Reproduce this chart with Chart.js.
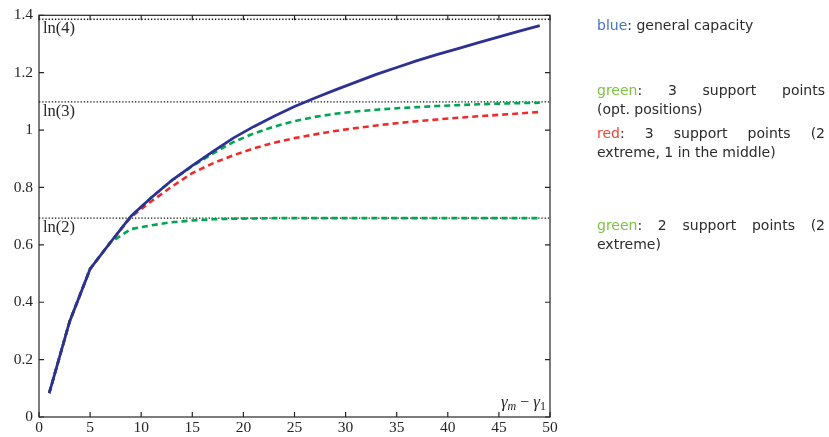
<!DOCTYPE html>
<html>
<head>
<meta charset="utf-8">
<script src="https://cdn.jsdelivr.net/npm/chart.js@4.4.0/dist/chart.umd.min.js"></script>
<style>
  html, body { margin: 0; padding: 0; background: #fff; }
  #wrap { position: relative; width: 829px; height: 437px; overflow: hidden; }
  #chart { position: absolute; left: 0; top: 0; }
  .note {
    position: absolute; left: 597px; width: 228px;
    font-family: "DejaVu Sans", sans-serif; font-size: 14px; line-height: 19px;
    color: #2b2b2b; margin: 0;
  }
  .note div { white-space: nowrap; }
  .note .j { text-align: justify; text-align-last: justify; white-space: normal; }
  .c-blue { color: #4472c4; }
  .c-green { color: #7dc242; }
  .c-red { color: #f0453a; }
</style>
</head>
<body>
<div id="wrap">
  <canvas id="chart" width="829" height="437"></canvas>
  <div class="note" style="top:16px"><div><span class="c-blue">blue</span>: general capacity</div></div>
  <div class="note" style="top:81px">
    <div class="j"><span class="c-green">green</span>: 3 support points</div>
    <div>(opt. positions)</div>
  </div>
  <div class="note" style="top:124px">
    <div class="j"><span class="c-red">red</span>: 3 support points (2</div>
    <div>extreme, 1 in the middle)</div>
  </div>
  <div class="note" style="top:216px">
    <div class="j"><span class="c-green">green</span>: 2 support points (2</div>
    <div>extreme)</div>
  </div>
</div>
<script>
// gamma_m - gamma_1 (spread of the support)
const spread = [1, 3, 5, 7, 9, 11, 13, 15, 17, 19, 21, 23, 25, 27, 29, 31, 33, 35, 37, 39, 41, 43, 45, 47, 49];

// general capacity
const capGeneral = [0.083, 0.333, 0.516, 0.609, 0.700, 0.765, 0.825, 0.876, 0.925, 0.972, 1.012, 1.048, 1.082,
                    1.112, 1.140, 1.167, 1.194, 1.218, 1.242, 1.264, 1.284, 1.305, 1.325, 1.345, 1.364];
// 3 support points, optimal positions
const cap3Opt = [0.083, 0.333, 0.516, 0.609, 0.700, 0.765, 0.825, 0.874, 0.918, 0.958, 0.988, 1.012, 1.031,
                 1.046, 1.057, 1.065, 1.071, 1.076, 1.080, 1.084, 1.087, 1.090, 1.092, 1.094, 1.095];
// 3 support points: both extremes plus the middle
const cap3Mid = [0.083, 0.333, 0.516, 0.609, 0.697, 0.752, 0.803, 0.850, 0.884, 0.912, 0.936, 0.956, 0.972,
                 0.985, 0.997, 1.007, 1.016, 1.024, 1.031, 1.037, 1.043, 1.048, 1.053, 1.058, 1.063];
// 2 support points at the extremes
const cap2Ext = [0.083, 0.333, 0.516, 0.609, 0.655, 0.668, 0.679, 0.685, 0.689, 0.691, 0.692, 0.693, 0.693,
                 0.693, 0.693, 0.693, 0.693, 0.693, 0.693, 0.693, 0.693, 0.693, 0.693, 0.693, 0.693];

// horizontal reference levels
const refLevels = [Math.log(2), Math.log(3), Math.log(4)];
const refLabels = ["ln(2)", "ln(3)", "ln(4)"];

const xTicks = [0, 5, 10, 15, 20, 25, 30, 35, 40, 45, 50];
const yTicks = [0, 0.2, 0.4, 0.6, 0.8, 1, 1.2, 1.4];

const pts = ys => spread.map((x, i) => ({ x: x, y: ys[i] }));
const hline = v => [{ x: 0, y: v }, { x: 50, y: v }];

const SERIF = '"Liberation Serif", "DejaVu Serif", serif';
const INK = '#262626';

// frame, inward tick marks and in-plot annotations
const framePlugin = {
  id: 'frame',
  afterDatasetsDraw(chart) {
    const { ctx, chartArea: a, scales } = chart;
    const xs = scales.x, ys = scales.y;
    ctx.save();
    ctx.strokeStyle = INK;
    ctx.lineWidth = 1.2;
    ctx.strokeRect(a.left, a.top, a.right - a.left, a.bottom - a.top);
    const tl = 5;
    ctx.beginPath();
    xTicks.forEach(v => {
      const px = xs.getPixelForValue(v);
      ctx.moveTo(px, a.bottom); ctx.lineTo(px, a.bottom - tl);
      ctx.moveTo(px, a.top); ctx.lineTo(px, a.top + tl);
    });
    yTicks.forEach(v => {
      const py = ys.getPixelForValue(v);
      ctx.moveTo(a.left, py); ctx.lineTo(a.left + tl, py);
      ctx.moveTo(a.right, py); ctx.lineTo(a.right - tl, py);
    });
    ctx.stroke();

    // level labels under each dotted line
    ctx.fillStyle = INK;
    ctx.font = '16.5px ' + SERIF;
    ctx.textAlign = 'left';
    ctx.textBaseline = 'alphabetic';
    refLevels.forEach((v, i) => {
      ctx.fillText(refLabels[i], a.left + 4, ys.getPixelForValue(v) + 14);
    });

    // axis label  γm − γ1, right-aligned inside the plot
    const parts = [
      ['γ', 'italic 17px ' + SERIF, 0],
      ['m', 'italic 12px ' + SERIF, 3],
      [' − ', '16px ' + SERIF, 0],
      ['γ', 'italic 17px ' + SERIF, 0],
      ['1', '12px ' + SERIF, 3]
    ];
    let total = 0;
    parts.forEach(p => { ctx.font = p[1]; total += ctx.measureText(p[0]).width; });
    let x = a.right - 4 - total;
    const base = a.bottom - 10;
    parts.forEach(p => {
      ctx.font = p[1];
      ctx.fillText(p[0], x, base + p[2]);
      x += ctx.measureText(p[0]).width;
    });
    ctx.restore();
  }
};

const dotted = {
  borderColor: '#111', borderWidth: 1.3, borderDash: [1.3, 1.9],
  pointRadius: 0, fill: false
};

new Chart(document.getElementById('chart'), {
  type: 'line',
  data: {
    datasets: [
      { label: 'general capacity', data: pts(capGeneral), borderColor: '#2e3192', borderWidth: 2.8,
        pointRadius: 0, fill: false },
      { label: '3 support points (opt. positions)', data: pts(cap3Opt), borderColor: '#00a651',
        borderWidth: 2.6, borderDash: [6, 4], pointRadius: 0, fill: false },
      { label: '3 support points (2 extreme, 1 in the middle)', data: pts(cap3Mid), borderColor: '#ee2b2b',
        borderWidth: 2.6, borderDash: [6, 4], pointRadius: 0, fill: false },
      { label: '2 support points (2 extreme)', data: pts(cap2Ext), borderColor: '#00a651',
        borderWidth: 2.6, borderDash: [6, 4], pointRadius: 0, fill: false },
      Object.assign({ label: 'ln(2)', data: hline(refLevels[0]) }, dotted),
      Object.assign({ label: 'ln(3)', data: hline(refLevels[1]) }, dotted),
      Object.assign({ label: 'ln(4)', data: hline(refLevels[2]) }, dotted)
    ]
  },
  options: {
    responsive: false,
    animation: false,
    devicePixelRatio: 1,
    layout: { padding: { left: 0, right: 279, top: 14, bottom: 0 } },
    plugins: { legend: { display: false }, tooltip: { enabled: false } },
    elements: { line: { tension: 0, borderCapStyle: 'butt' } },
    scales: {
      x: {
        type: 'linear', min: 0, max: 50,
        afterFit: s => { s.height = 20; },
        afterBuildTicks: s => { s.ticks = xTicks.map(v => ({ value: v })); },
        grid: { display: false, drawTicks: false },
        border: { display: false },
        ticks: { color: INK, padding: 2, maxRotation: 0, autoSkip: false,
                 font: { family: SERIF, size: 15.5 } }
      },
      y: {
        type: 'linear', min: 0, max: 1.4,
        afterFit: s => { s.width = 39; },
        afterBuildTicks: s => { s.ticks = yTicks.map(v => ({ value: v })); },
        grid: { display: false, drawTicks: false },
        border: { display: false },
        ticks: { color: INK, padding: 6, autoSkip: false,
                 font: { family: SERIF, size: 15.5 },
                 callback: v => String(Math.round(v * 10) / 10) }
      }
    }
  },
  plugins: [framePlugin]
});
</script>
</body>
</html>
